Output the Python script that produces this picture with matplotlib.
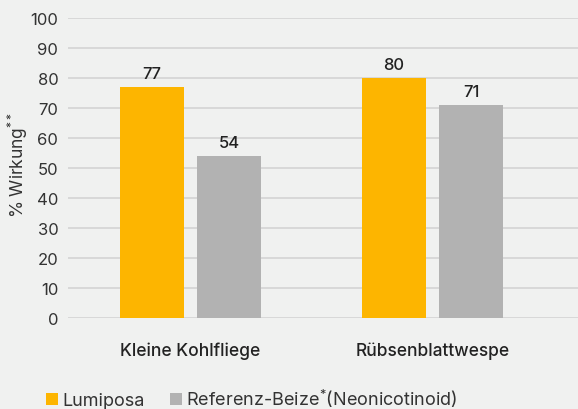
import matplotlib
matplotlib.use("Agg")
import matplotlib.pyplot as plt
import numpy as np

categories = ["Kleine Kohlfliege", "Rübsenblattwespe"]
lumiposa = [77, 80]
referenz = [54, 71]
series_names = ["Lumiposa", "Referenz-Beize$^{*}$(Neonicotinoid)"]
yticks = [0, 10, 20, 30, 40, 50, 60, 70, 80, 90, 100]

FONT = 'Inter'
plt.rcParams['font.family'] = [FONT, 'DejaVu Sans']
plt.rcParams['mathtext.fontset'] = 'custom'
plt.rcParams['mathtext.rm'] = FONT
plt.rcParams['mathtext.it'] = FONT
plt.rcParams['mathtext.bf'] = FONT

bg = '#f0f1f0'
yellow = '#fdb500'
gray = '#b2b2b2'
txt = '#222222'
lbl = '#333333'

fig = plt.figure(figsize=(5.78, 4.10), dpi=100, facecolor=bg)
ax = fig.add_axes([68/578, 91/410, 510/578, 300/410], facecolor=bg)

x = np.arange(len(categories))
w = 0.264
off = 0.159
b1 = ax.bar(x - off, lumiposa, w, color=yellow, label=series_names[0], zorder=3)
b2 = ax.bar(x + off, referenz, w, color=gray, label=series_names[1], zorder=3)

for bars, vals in ((b1, lumiposa), (b2, referenz)):
    for r, v in zip(bars, vals):
        ax.annotate(f"{v}", (r.get_x() + r.get_width()/2, v), xytext=(0, 4),
                    textcoords='offset points', ha='center', va='bottom',
                    fontsize=12, color=txt, fontweight='medium')

ax.set_xlim(-0.506, 1.601)
ax.set_ylim(0, 100)
ax.set_yticks(yticks)
ax.set_yticklabels([str(t) for t in yticks], fontsize=12, color=lbl, fontweight='normal')
ax.set_xticks(x)
ax.set_xticklabels(categories, fontsize=12.5, color=txt, fontweight='medium')
ax.tick_params(axis='both', length=0)
ax.tick_params(axis='y', pad=7)
ax.tick_params(axis='x', pad=17)
ax.grid(axis='y', color='#d4d4d4', linewidth=1.2, zorder=0)
for s in ax.spines.values():
    s.set_visible(False)

fig.text(18/578, 1 - 165/410, "% Wirkung$^{**}$", rotation=90, ha='center', va='center',
         fontsize=12.5, color=lbl, fontweight='normal')

leg = fig.legend(handles=[b1, b2], loc='lower left', bbox_to_anchor=(46/578, 0/410),
                 ncol=2, frameon=False, fontsize=13, handlelength=0.65, handleheight=0.65,
                 handletextpad=0.25, columnspacing=1.4, labelcolor=lbl,
                 borderpad=0, borderaxespad=0)

fig.savefig("out.png", dpi=100, facecolor=bg)
